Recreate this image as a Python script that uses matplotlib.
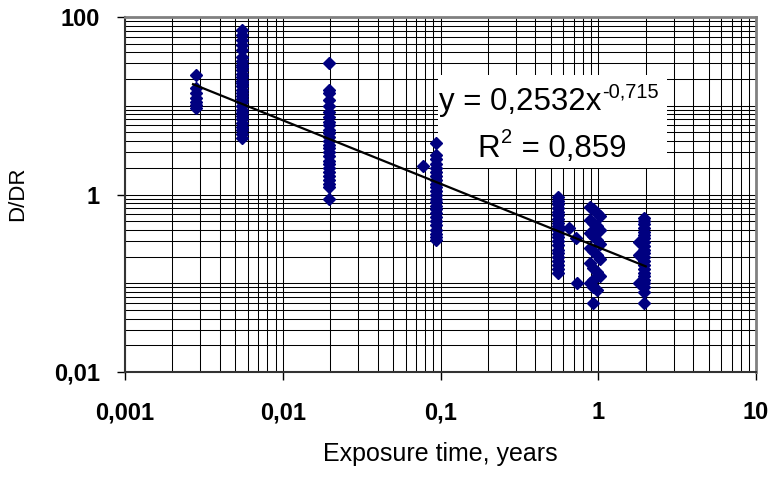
import matplotlib
matplotlib.use('Agg')
import matplotlib.pyplot as plt
import numpy as np
from matplotlib.ticker import FixedLocator, LogLocator, NullFormatter
from matplotlib.patches import Rectangle

# D/DR vs exposure time (Excel style chart)
x_ticks = [0.001, 0.01, 0.1, 1, 10]
x_tick_labels = ['0,001', '0,01', '0,1', '1', '10']
y_ticks = [0.01, 1, 100]
y_tick_labels = ['0,01', '1', '100']

# columns of points: one exposure time, many D/DR values
col1_x = 0.0028
col1_y = [22, 16, 14, 12.2, 11, 10.2, 9.4]

col2_x = 0.0055
col2_y = [71, 63, 55, 48, 42.5, 35, 32, 29, 27, 25, 23, 21, 19, 18, 16.5, 15,
          14, 13, 12, 11, 10, 9, 8.3, 7.6, 7, 6.4, 5.8, 5.3, 4.8, 4.3]

col3_x = 0.0197
col3_y = [30, 15, 14, 11.6, 10, 8.5, 7.5, 6.6, 6, 5.4, 4.9, 4.4, 4, 3.6, 3.3,
          3, 2.7, 2.4, 2.2, 2, 1.8, 1.6, 1.45, 1.3, 1.2, 0.89]

col4_x = 0.093
col4_y = [3.8, 2.8, 2.5, 2.2, 2.0, 1.8, 1.6, 1.45, 1.3, 1.2, 1.1, 1.0, 0.9,
          0.82, 0.75, 0.68, 0.62, 0.56, 0.5, 0.45, 0.4, 0.36, 0.33, 0.31]

col5_x = 0.555
col5_y = [0.93, 0.85, 0.78, 0.7, 0.64, 0.58, 0.53, 0.48, 0.44, 0.4, 0.36,
          0.33, 0.3, 0.27, 0.24, 0.22, 0.2, 0.18, 0.16, 0.145, 0.13]

col6_x = [0.89, 0.93, 0.98, 1.02, 0.89, 0.93, 0.98, 1.02, 0.89, 0.93, 0.98, 1.02,
          0.89, 0.93, 0.98, 1.02, 0.89, 0.93, 0.98, 1.02, 0.93, 0.89, 0.93, 0.98, 0.93]
col6_y = [0.72, 0.68, 0.62, 0.57, 0.52, 0.48, 0.44, 0.4, 0.37, 0.34, 0.31,
          0.28, 0.25, 0.23, 0.21, 0.19, 0.17, 0.15, 0.135, 0.12, 0.11, 0.1,
          0.09, 0.083, 0.06]

col7_x = 1.96
col7_y = [0.54, 0.5, 0.46, 0.42, 0.38, 0.35, 0.32, 0.29, 0.26, 0.24, 0.22,
          0.2, 0.18, 0.16, 0.145, 0.13, 0.12, 0.11, 0.1, 0.09, 0.079, 0.06]

# loose points
extra_x = [0.077, 0.65, 0.72, 0.73, 1.8, 1.8, 1.8]
extra_y = [2.1, 0.42, 0.32, 0.10, 0.29, 0.21, 0.10]

# power trend line y = 0,2532 x^-0,715, ends
trend_x = [0.0027, 2.0]
trend_y = [17.5, 0.155]

plt.rcParams['font.family'] = ['Liberation Sans', 'DejaVu Sans']

fig = plt.figure(figsize=(7.71, 4.8), dpi=100)
ax = fig.add_axes([125 / 771, 1 - 372 / 480, 631 / 771, 355 / 480])
ax.set_xscale('log')
ax.set_yscale('log')
ax.set_xlim(0.001, 10)
ax.set_ylim(0.01, 100)

navy = '#000080'
cols = [(col1_x, col1_y), (col2_x, col2_y), (col3_x, col3_y), (col4_x, col4_y),
        (col5_x, col5_y), (col7_x, col7_y)]
for cx, cy in cols:
    ax.plot(np.full(len(cy), cx), cy, 'D', color=navy, ms=6.5, mec=navy, zorder=4)
ax.plot(col6_x, col6_y, 'D', color=navy, ms=6.5, mec=navy, zorder=4)
ax.plot(extra_x, extra_y, 'D', color=navy, ms=6.5, mec=navy, zorder=4)

ax.plot(trend_x, trend_y, color='black', lw=1.6, zorder=5)

# ticks and grid
ax.xaxis.set_major_locator(FixedLocator(x_ticks))
ax.xaxis.set_minor_locator(LogLocator(base=10, subs=np.arange(2, 10)))
ax.xaxis.set_minor_formatter(NullFormatter())
ax.set_xticklabels(x_tick_labels)
ax.yaxis.set_major_locator(FixedLocator(y_ticks))
ax.yaxis.set_minor_locator(LogLocator(base=10, subs=np.arange(1, 10), numticks=20))
ax.yaxis.set_minor_formatter(NullFormatter())
ax.set_yticklabels(y_tick_labels)

ax.grid(which='both', color='black', lw=0.75)
ax.set_axisbelow(True)
ax.tick_params(axis='x', which='major', direction='out', length=6, width=1,
               pad=15, labelsize=17)
ax.tick_params(axis='x', which='minor', direction='in', length=4, width=0.6)
ax.tick_params(axis='y', which='major', direction='out', length=6, width=1,
               pad=12, labelsize=17)
ax.tick_params(axis='y', which='minor', length=0)
for lab in ax.get_xticklabels() + ax.get_yticklabels():
    lab.set_fontweight('bold')

for side in ['top', 'right']:
    ax.spines[side].set_color('#808080')
    ax.spines[side].set_linewidth(2)
for side in ['left', 'bottom']:
    ax.spines[side].set_color('#333333')
    ax.spines[side].set_linewidth(1.5)

fig.text(440 / 771, 1 - 454 / 480, 'Exposure time, years', fontsize=18,
         ha='center', va='center')
fig.text(18 / 771, 1 - 194 / 480, 'D/DR', fontsize=16, rotation=90,
         ha='center', va='center')

# trend line label on white box
box = Rectangle((438 / 771, 1 - 168 / 480), 229 / 771, 93 / 480,
                transform=fig.transFigure, facecolor='white', edgecolor='none',
                zorder=3)
ax.add_artist(box)
box.set_clip_on(False)

fig.canvas.draw()
renderer = fig.canvas.get_renderer()
h = 480
t1 = fig.text(439 / 771, 1 - 110 / h, 'y = 0,2532x', fontsize=22.5,
              ha='left', va='baseline', zorder=6)
bb = t1.get_window_extent(renderer)
fig.text((bb.x1 + 1) / 771, 1 - 97 / h, '-0,715', fontsize=14.5,
         ha='left', va='baseline', zorder=6)

t2 = fig.text(477 / 771, 1 - 157 / h, 'R', fontsize=22.5,
              ha='left', va='baseline', zorder=6)
bb = t2.get_window_extent(renderer)
t3 = fig.text((bb.x1 + 1) / 771, 1 - 143 / h, '2', fontsize=14.5,
              ha='left', va='baseline', zorder=6)
bb = t3.get_window_extent(renderer)
fig.text((bb.x1 + 1) / 771, 1 - 157 / h, ' = 0,859', fontsize=22.5,
         ha='left', va='baseline', zorder=6)

fig.savefig('out.png', dpi=100)
